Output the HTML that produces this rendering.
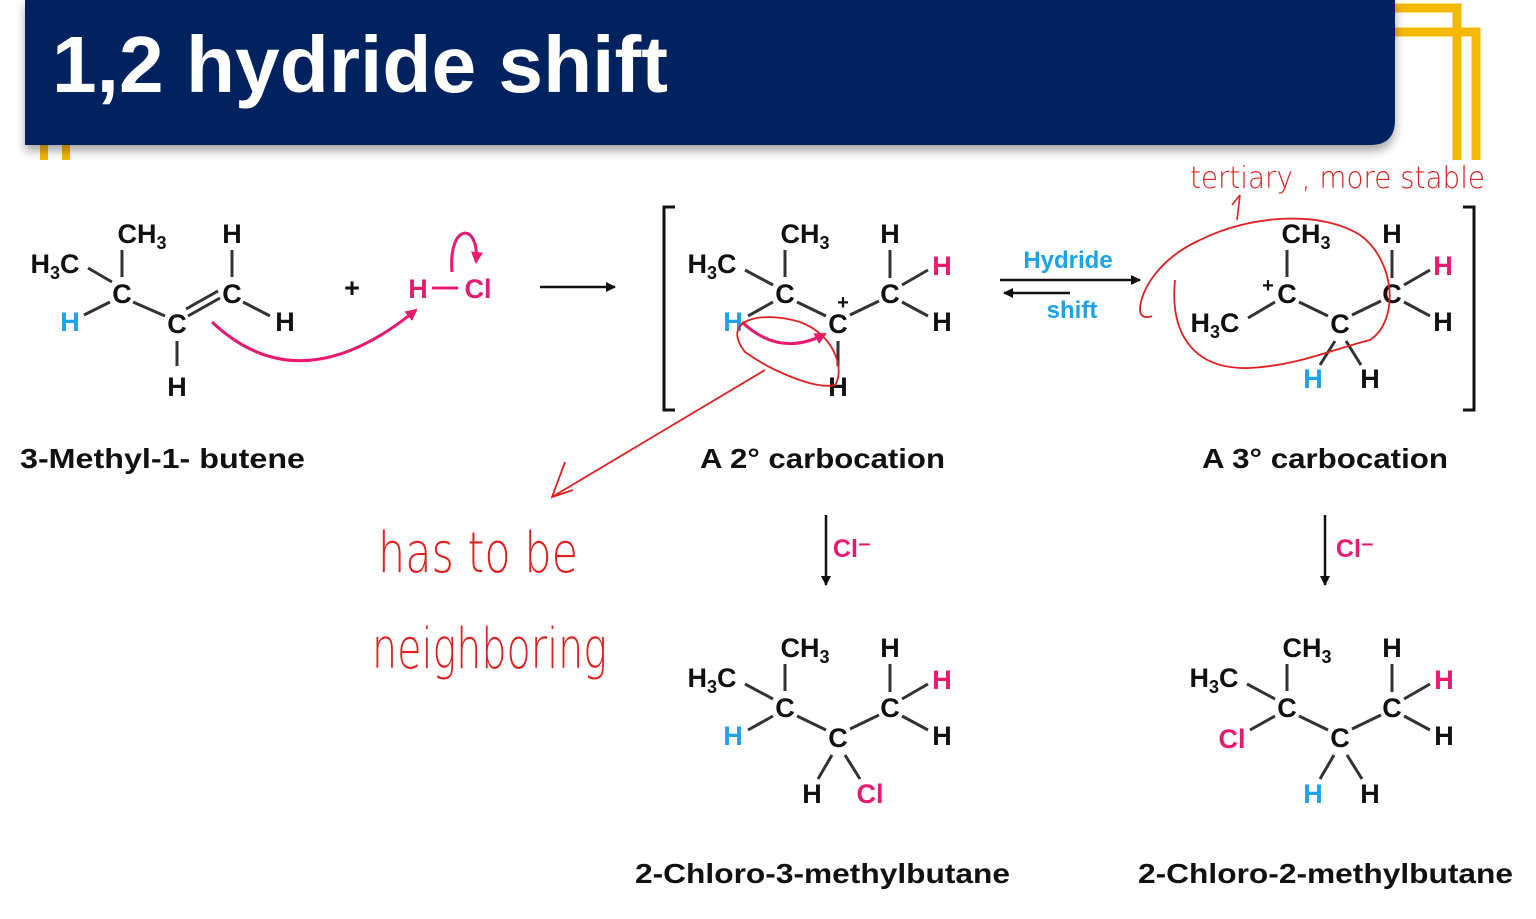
<!DOCTYPE html>
<html><head><meta charset="utf-8"><style>
html,body{margin:0;padding:0;background:#fff;}
svg{display:block;}
.a{font-family:"Liberation Sans",Arial,sans-serif;font-weight:bold;font-size:27px;text-anchor:middle;fill:#111;}
.s{font-size:18px;}
.b{fill:#1aa3e8;}
.p{fill:#e8196e;}
.lab{font-family:"Liberation Sans",Arial,sans-serif;font-weight:bold;font-size:28px;fill:#111;}
.hw{font-family:"DejaVu Sans","Liberation Sans",sans-serif;font-weight:200;fill:#e02020;}
line.bd{stroke:#333;stroke-width:3;}
</style></head><body>
<svg width="1536" height="919" viewBox="0 0 1536 919" xmlns="http://www.w3.org/2000/svg">
<defs>
<marker id="ak" markerWidth="10" markerHeight="10" refX="9" refY="5" orient="auto" markerUnits="userSpaceOnUse"><path d="M0,0 L10,5 L0,10 Z" fill="#111"/></marker>
<marker id="ap" markerWidth="12" markerHeight="12" refX="10" refY="6" orient="auto" markerUnits="userSpaceOnUse"><path d="M0,0 L12,6 L0,12 Z" fill="#e8196e"/></marker>
<filter id="sh" x="-5%" y="-20%" width="110%" height="150%"><feDropShadow dx="0" dy="6" stdDeviation="5" flood-color="#000" flood-opacity="0.35"/></filter>
</defs>
<!-- yellow decorations -->
<path d="M1395,8 H1457 V160" fill="none" stroke="#f5b800" stroke-width="9"/>
<path d="M1395,32 H1476 V160" fill="none" stroke="#f5b800" stroke-width="9"/>
<rect x="40" y="140" width="8" height="20" fill="#f5b800"/>
<rect x="62" y="140" width="8" height="20" fill="#f5b800"/>
<!-- header -->
<path d="M25,0 H1395 V120 Q1395,145 1370,145 H25 Z" fill="#00205f" filter="url(#sh)"/>
<text x="52" y="92" fill="#fff" font-family="Liberation Sans,Arial,sans-serif" font-weight="bold" font-size="80" textLength="616" lengthAdjust="spacingAndGlyphs">1,2 hydride shift</text>

<!-- Molecule 1 -->
<g>
<text class="a" x="55" y="273">H<tspan class="s" dy="6">3</tspan><tspan dy="-6">C</tspan></text>
<text class="a" x="142" y="243">CH<tspan class="s" dy="6">3</tspan></text>
<text class="a" x="232" y="243">H</text>
<text class="a" x="122" y="303">C</text>
<text class="a" x="232" y="303">C</text>
<text class="a b" x="70" y="331">H</text>
<text class="a" x="177" y="333">C</text>
<text class="a" x="285" y="331">H</text>
<text class="a" x="177" y="396">H</text>
<line class="bd" x1="122" y1="250" x2="122" y2="277"/>
<line class="bd" x1="88" y1="268" x2="112" y2="282"/>
<line class="bd" x1="84" y1="315" x2="110" y2="302"/>
<line class="bd" x1="133" y1="302" x2="165" y2="316"/>
<line class="bd" x1="188" y1="316" x2="220" y2="298"/>
<line class="bd" x1="186" y1="309" x2="218" y2="291"/>
<line class="bd" x1="232" y1="250" x2="232" y2="277"/>
<line class="bd" x1="243" y1="302" x2="270" y2="316"/>
<line class="bd" x1="177" y1="341" x2="177" y2="366"/>
<path d="M212,322 Q300,405 416,310" fill="none" stroke="#e8196e" stroke-width="3" marker-end="url(#ap)"/>
</g>
<text class="a" x="352" y="297">+</text>
<text class="a p" x="418" y="298">H</text>
<line x1="432" y1="288" x2="458" y2="288" stroke="#e8196e" stroke-width="3"/>
<text class="a p" x="478" y="298">Cl</text>
<path d="M452,272 C448,222 480,222 476,262" fill="none" stroke="#e8196e" stroke-width="3" marker-end="url(#ap)"/>
<line x1="540" y1="287" x2="615" y2="287" stroke="#111" stroke-width="2.5" marker-end="url(#ak)"/>
<text class="lab" x="20" y="468" textLength="285" lengthAdjust="spacingAndGlyphs">3-Methyl-1- butene</text>

<!-- brackets -->
<path d="M675,207 H664 V410 H675" fill="none" stroke="#111" stroke-width="3"/>
<path d="M1463,207 H1474 V410 H1463" fill="none" stroke="#111" stroke-width="3"/>

<!-- Molecule 2 -->
<g>
<text class="a" x="712" y="273">H<tspan class="s" dy="6">3</tspan><tspan dy="-6">C</tspan></text>
<text class="a" x="805" y="243">CH<tspan class="s" dy="6">3</tspan></text>
<text class="a" x="890" y="243">H</text>
<text class="a" x="785" y="303">C</text>
<text class="a" x="838" y="333">C</text>
<text class="a" x="843" y="309" style="font-size:20px">+</text>
<text class="a" x="890" y="303">C</text>
<text class="a p" x="942" y="275">H</text>
<text class="a" x="942" y="331">H</text>
<text class="a b" x="733" y="331">H</text>
<text class="a" x="838" y="396">H</text>
<line class="bd" x1="785" y1="250" x2="785" y2="277"/>
<line class="bd" x1="745" y1="270" x2="773" y2="285"/>
<line class="bd" x1="748" y1="316" x2="773" y2="302"/>
<line class="bd" x1="797" y1="302" x2="826" y2="316"/>
<line class="bd" x1="850" y1="315" x2="879" y2="301"/>
<line class="bd" x1="890" y1="250" x2="890" y2="278"/>
<line class="bd" x1="902" y1="285" x2="928" y2="270"/>
<line class="bd" x1="902" y1="302" x2="928" y2="316"/>
<line class="bd" x1="838" y1="341" x2="838" y2="366"/>
<path d="M742,322 Q780,358 825,334" fill="none" stroke="#e8196e" stroke-width="3" marker-end="url(#ap)"/>
<path d="M745,352 C720,320 760,310 800,322 C835,335 845,370 835,385 C815,390 770,370 745,352 Z" fill="none" stroke="#e02020" stroke-width="1.8"/>
<path d="M765,370 L552,497" fill="none" stroke="#e02020" stroke-width="1.8"/>
<path d="M565,462 L552,497 L573,490" fill="none" stroke="#e02020" stroke-width="1.8"/>
</g>
<line x1="1000" y1="280" x2="1140" y2="280" stroke="#111" stroke-width="2.5" marker-end="url(#ak)"/>
<line x1="1070" y1="293" x2="1004" y2="293" stroke="#111" stroke-width="2.5" marker-end="url(#ak)"/>
<text class="a b" x="1068" y="268" style="font-size:24px">Hydride</text>
<text class="a b" x="1072" y="318" style="font-size:24px">shift</text>
<text class="lab" x="700" y="468" textLength="245" lengthAdjust="spacingAndGlyphs">A 2° carbocation</text>

<!-- Molecule 3 -->
<g>
<text class="a" x="1306" y="243">CH<tspan class="s" dy="6">3</tspan></text>
<text class="a" x="1392" y="243">H</text>
<text class="a" x="1287" y="303">C</text>
<text class="a" x="1268" y="292" style="font-size:20px">+</text>
<text class="a" x="1215" y="332">H<tspan class="s" dy="6">3</tspan><tspan dy="-6">C</tspan></text>
<text class="a" x="1340" y="333">C</text>
<text class="a" x="1392" y="303">C</text>
<text class="a p" x="1443" y="275">H</text>
<text class="a" x="1443" y="331">H</text>
<text class="a b" x="1313" y="388">H</text>
<text class="a" x="1370" y="388">H</text>
<line class="bd" x1="1287" y1="250" x2="1287" y2="277"/>
<line class="bd" x1="1275" y1="302" x2="1248" y2="318"/>
<line class="bd" x1="1299" y1="302" x2="1328" y2="316"/>
<line class="bd" x1="1352" y1="315" x2="1381" y2="301"/>
<line class="bd" x1="1392" y1="250" x2="1392" y2="278"/>
<line class="bd" x1="1404" y1="285" x2="1430" y2="270"/>
<line class="bd" x1="1404" y1="302" x2="1430" y2="316"/>
<line class="bd" x1="1335" y1="341" x2="1320" y2="365"/>
<line class="bd" x1="1346" y1="341" x2="1361" y2="365"/>
<path d="M1175,280 C1170,330 1190,370 1250,368 C1300,365 1330,350 1370,340 C1400,320 1395,260 1360,235 C1320,210 1250,215 1200,240 C1160,258 1140,290 1140,310 C1140,318 1148,318 1152,316" fill="none" stroke="#e02020" stroke-width="1.8"/>
<path d="M1237,220 L1240,195 M1232,205 L1240,195" fill="none" stroke="#e02020" stroke-width="1.6"/>
<text class="hw" x="1190" y="188" font-size="30" textLength="295" lengthAdjust="spacingAndGlyphs">tertiary , more stable</text>
</g>
<text class="lab" x="1202" y="468" textLength="246" lengthAdjust="spacingAndGlyphs">A 3° carbocation</text>

<!-- handwriting -->
<text class="hw" x="378" y="572" font-size="56" textLength="200" lengthAdjust="spacingAndGlyphs">has to be</text>
<text class="hw" x="372" y="668" font-size="56" textLength="235" lengthAdjust="spacingAndGlyphs">neighboring</text>

<!-- down arrows -->
<line x1="826" y1="515" x2="826" y2="585" stroke="#111" stroke-width="2.5" marker-end="url(#ak)"/>
<text class="a p" x="852" y="557" style="font-size:25px">Cl⁻</text>
<line x1="1325" y1="515" x2="1325" y2="585" stroke="#111" stroke-width="2.5" marker-end="url(#ak)"/>
<text class="a p" x="1355" y="557" style="font-size:25px">Cl⁻</text>

<!-- Molecule 4 -->
<g transform="translate(0,414)">
<text class="a" x="712" y="273">H<tspan class="s" dy="6">3</tspan><tspan dy="-6">C</tspan></text>
<text class="a" x="805" y="243">CH<tspan class="s" dy="6">3</tspan></text>
<text class="a" x="890" y="243">H</text>
<text class="a" x="785" y="303">C</text>
<text class="a" x="838" y="333">C</text>
<text class="a" x="890" y="303">C</text>
<text class="a p" x="942" y="275">H</text>
<text class="a" x="942" y="331">H</text>
<text class="a b" x="733" y="331">H</text>
<text class="a" x="812" y="389">H</text>
<text class="a p" x="870" y="389">Cl</text>
<line class="bd" x1="785" y1="250" x2="785" y2="277"/>
<line class="bd" x1="745" y1="270" x2="773" y2="285"/>
<line class="bd" x1="748" y1="316" x2="773" y2="302"/>
<line class="bd" x1="797" y1="302" x2="826" y2="316"/>
<line class="bd" x1="850" y1="315" x2="879" y2="301"/>
<line class="bd" x1="890" y1="250" x2="890" y2="278"/>
<line class="bd" x1="902" y1="285" x2="928" y2="270"/>
<line class="bd" x1="902" y1="302" x2="928" y2="316"/>
<line class="bd" x1="832" y1="341" x2="818" y2="365"/>
<line class="bd" x1="845" y1="341" x2="860" y2="365"/>
</g>
<text class="lab" x="635" y="883" textLength="375" lengthAdjust="spacingAndGlyphs">2-Chloro-3-methylbutane</text>

<!-- Molecule 5 -->
<g transform="translate(502,414)">
<text class="a" x="712" y="273">H<tspan class="s" dy="6">3</tspan><tspan dy="-6">C</tspan></text>
<text class="a" x="805" y="243">CH<tspan class="s" dy="6">3</tspan></text>
<text class="a" x="890" y="243">H</text>
<text class="a" x="785" y="303">C</text>
<text class="a" x="838" y="333">C</text>
<text class="a" x="890" y="303">C</text>
<text class="a p" x="942" y="275">H</text>
<text class="a" x="942" y="331">H</text>
<text class="a p" x="730" y="334">Cl</text>
<text class="a b" x="811" y="389">H</text>
<text class="a" x="868" y="389">H</text>
<line class="bd" x1="785" y1="250" x2="785" y2="277"/>
<line class="bd" x1="745" y1="270" x2="773" y2="285"/>
<line class="bd" x1="748" y1="316" x2="773" y2="302"/>
<line class="bd" x1="797" y1="302" x2="826" y2="316"/>
<line class="bd" x1="850" y1="315" x2="879" y2="301"/>
<line class="bd" x1="890" y1="250" x2="890" y2="278"/>
<line class="bd" x1="902" y1="285" x2="928" y2="270"/>
<line class="bd" x1="902" y1="302" x2="928" y2="316"/>
<line class="bd" x1="832" y1="341" x2="818" y2="365"/>
<line class="bd" x1="845" y1="341" x2="860" y2="365"/>
</g>
<text class="lab" x="1138" y="883" textLength="375" lengthAdjust="spacingAndGlyphs">2-Chloro-2-methylbutane</text>
</svg>
</body></html>
